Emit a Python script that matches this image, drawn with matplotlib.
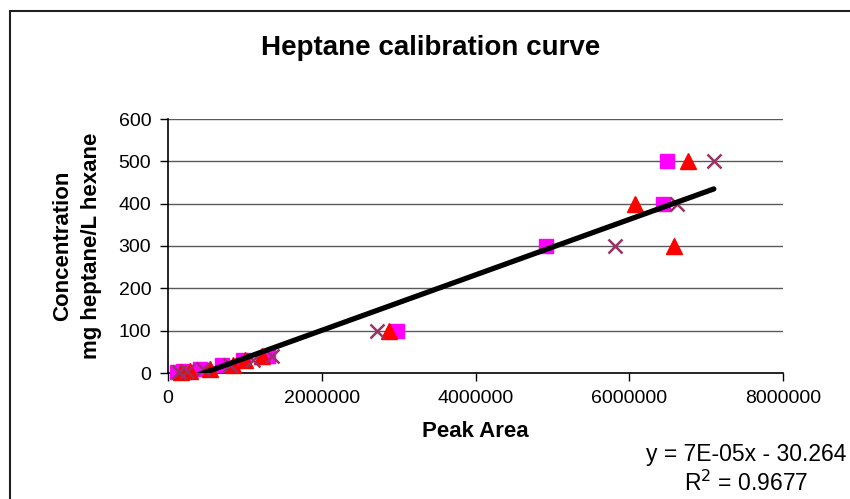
import matplotlib
matplotlib.use("Agg")
import matplotlib.pyplot as plt
from matplotlib.patches import Rectangle
import numpy as np

plt.rcParams['font.family'] = ['Liberation Sans', 'DejaVu Sans']

# Calibration standards (mg heptane / L hexane)
conc = [2, 5, 10, 20, 30, 40, 100, 300, 400, 500]

# Peak areas for three replicate runs
area_run1 = [120000, 200000, 420000, 700000, 980000, 1300000, 2980000, 4920000, 6440000, 6490000]
area_run2 = [170000, 280000, 550000, 850000, 1000000, 1220000, 2870000, 6580000, 6080000, 6760000]
area_run3 = [140000, 250000, 450000, 800000, 1100000, 1350000, 2720000, 5810000, 6620000, 7100000]

# Linear trendline
slope = 6.55e-05
intercept = -30.264
r_squared = 0.9677

x_ticks = [0, 2000000, 4000000, 6000000, 8000000]
y_ticks = [0, 100, 200, 300, 400, 500, 600]

fig = plt.figure(figsize=(8.5, 4.99), dpi=100)
ax = fig.add_axes([168 / 850, 1 - 373 / 499, (783 - 168) / 850, (373 - 119) / 499])

for y in y_ticks[1:]:
    ax.axhline(y, color='#5a5a5a', lw=1.0, zorder=1)

ax.plot(area_run1, conc, linestyle='none', marker='s', ms=10.5, color='#FF00FF',
        mec='#FF00FF', zorder=3, clip_on=False)
ax.plot(area_run2, conc, linestyle='none', marker='^', ms=11, color='#FF0000',
        mec='#FF0000', zorder=3, clip_on=False)
ax.plot(area_run3, conc, linestyle='none', marker='x', ms=10.5, mew=1.8,
        color='#993366', zorder=4, clip_on=False)

all_x = np.array(area_run1 + area_run2 + area_run3)
xs = np.array([all_x.min(), all_x.max()])
ax.plot(xs, slope * xs + intercept, color='black', lw=3.8, zorder=5,
        solid_capstyle='round')

ax.set_xlim(0, 8000000)
ax.set_ylim(0, 600)
ax.set_xticks(x_ticks)
ax.set_xticklabels([str(v) for v in x_ticks])
ax.set_yticks(y_ticks)
ax.set_yticklabels([str(v) for v in y_ticks])
ax.tick_params(axis='both', direction='out', length=6, width=1, labelsize=14,
               colors='black', pad=6)

for side in ('top', 'right'):
    ax.spines[side].set_visible(False)
for side in ('left', 'bottom'):
    ax.spines[side].set_color('black')
    ax.spines[side].set_linewidth(1.2)

ax.set_xlabel('Peak Area', fontsize=16, fontweight='bold', labelpad=10)
ax.set_ylabel('Concentration\nmg heptane/L hexane', fontsize=16,
              fontweight='bold', labelpad=12, linespacing=1.5)

fig.text(431 / 850, 1 - 48 / 499, 'Heptane calibration curve', fontsize=20,
         fontweight='bold', ha='center', va='center')

fig.text(746 / 850, 1 - 455 / 499, f'y = 7E-05x - {abs(intercept):.3f}',
         fontsize=16.5, ha='center', va='center')
fig.text(746 / 850, 1 - 483 / 499, f'R$^2$ = {r_squared:.4f}',
         fontsize=16.5, ha='center', va='center')

fig.add_artist(Rectangle((9.5 / 850, -0.05), 1.2, 1 - 11 / 499 + 0.05,
                         transform=fig.transFigure, fill=False,
                         edgecolor='#202020', lw=1.5))

fig.savefig('out.png', dpi=100, facecolor='white')
